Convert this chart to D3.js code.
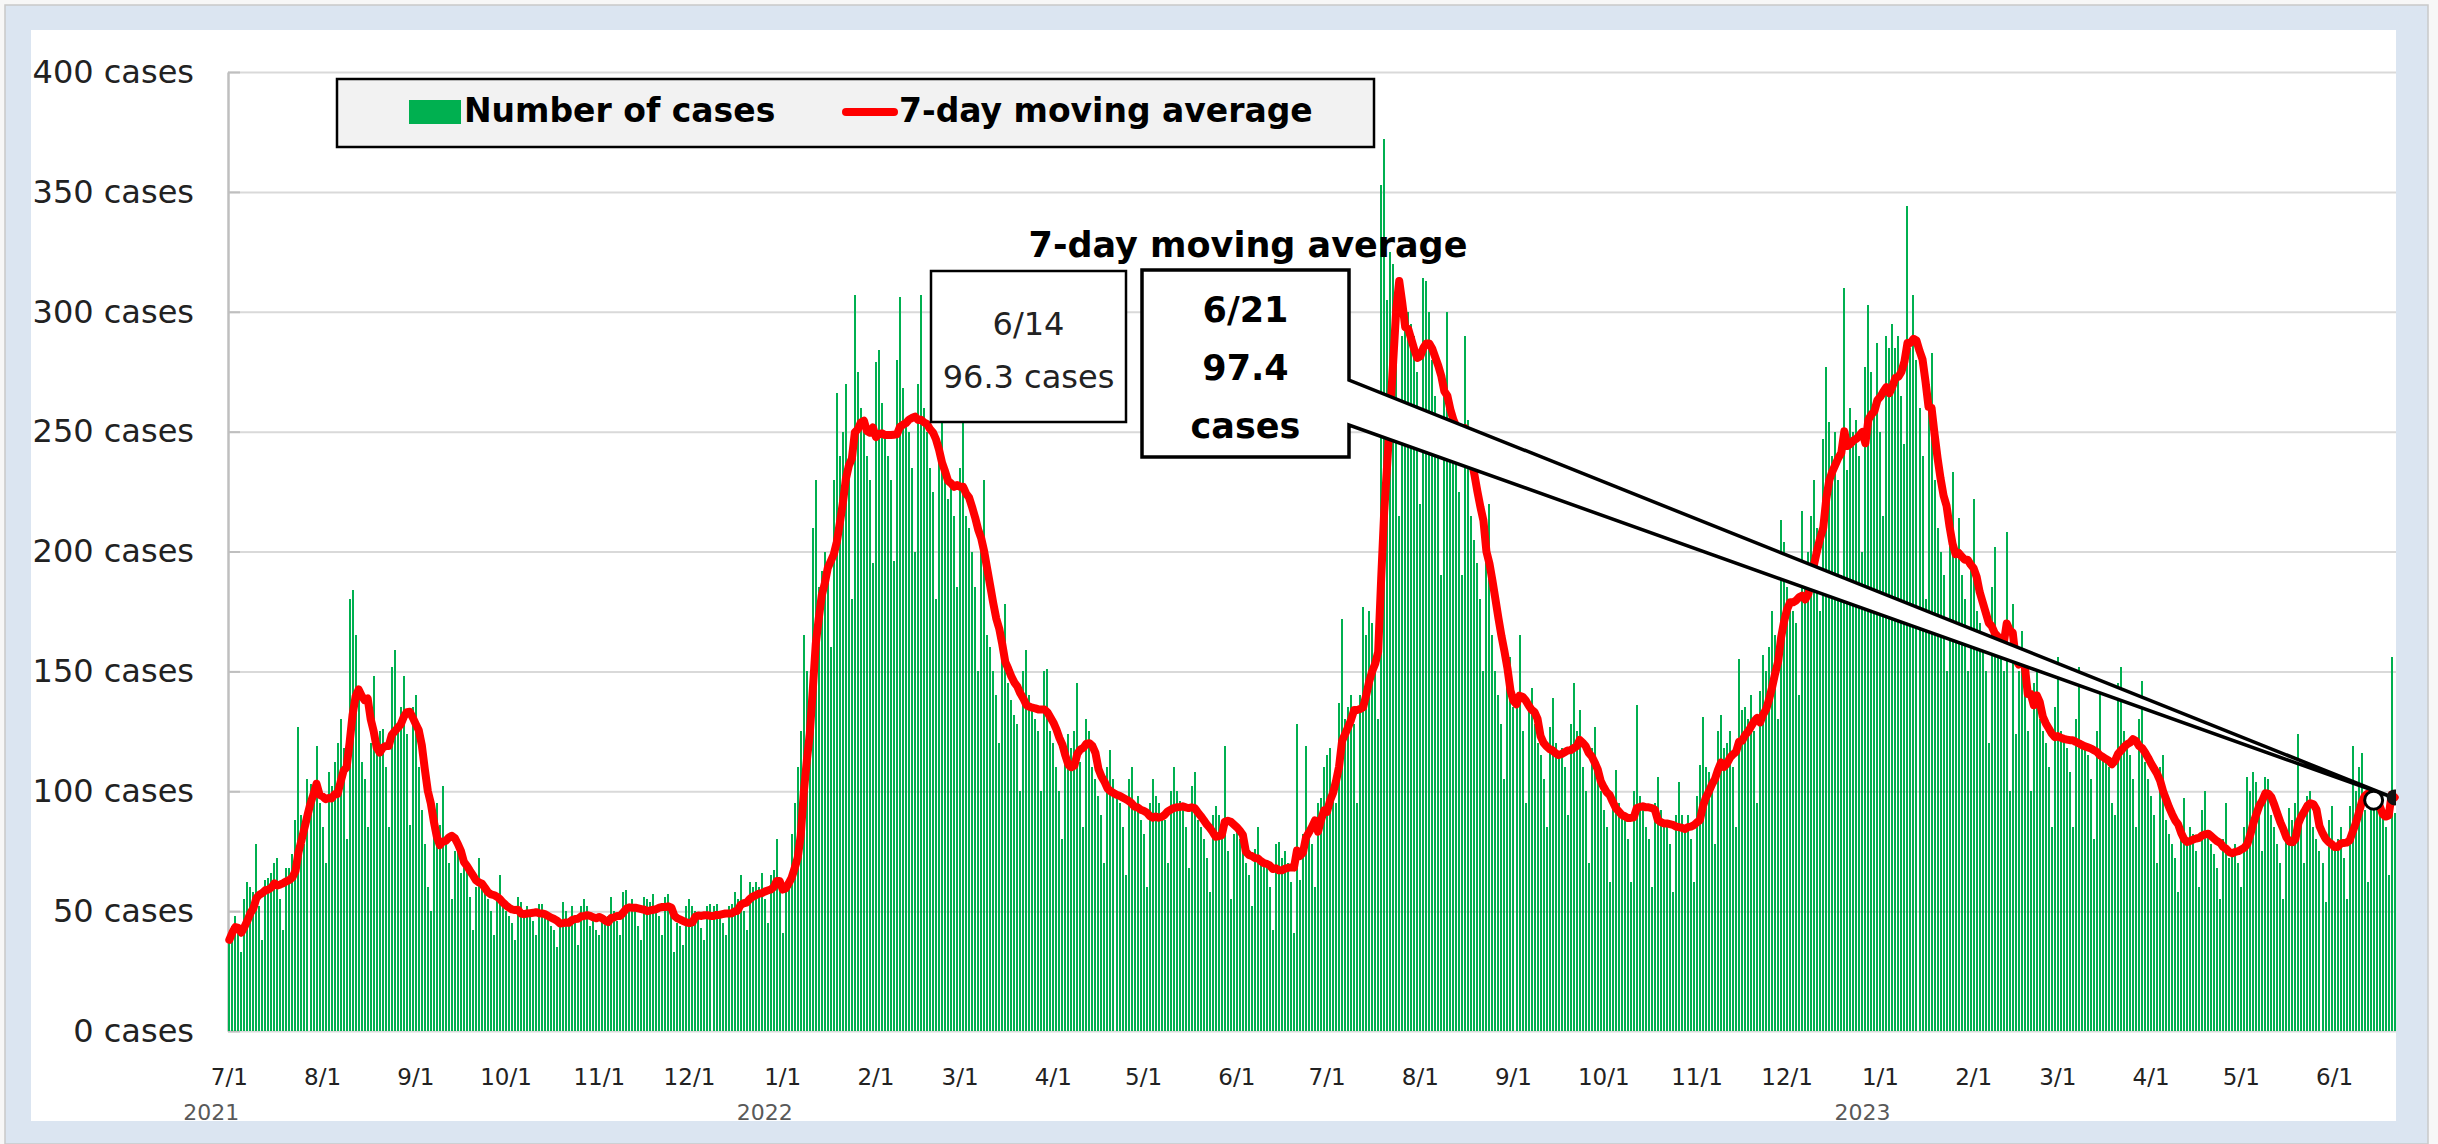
<!DOCTYPE html>
<html>
<head>
<meta charset="utf-8">
<script src="https://cdn.jsdelivr.net/npm/d3@7"></script>
<style>
  html, body { margin: 0; padding: 0; background: #f7f7f7; }
  svg { display: block; font-family: "DejaVu Sans", Verdana, sans-serif; }
</style>
</head>
<body>
<script>
// daily cases from 2021-07-01, one row per week (Thu..Wed)
const firstDay = "2021-07-01";
const cases = [
  38, 44, 48, 42, 33, 55, 62,
  60, 58, 78, 52, 38, 63, 64,
  66, 70, 72, 55, 42, 68, 68,
  74, 88, 127, 90, 78, 105, 103,
  100, 119, 95, 85, 70, 108, 102,
  112, 120, 130, 118, 80, 180, 184,
  165, 140, 112, 105, 85, 120, 148,
  118, 125, 126, 110, 85, 152, 159,
  128, 135, 148, 124, 86, 135, 140,
  110, 92, 78, 60, 50, 82, 95,
  86, 102, 80, 70, 55, 75, 78,
  66, 70, 68, 56, 42, 60, 72,
  62, 58, 55, 50, 40, 55, 65,
  52, 50, 48, 45, 38, 56, 54,
  50, 52, 49, 46, 40, 53, 53,
  48, 47, 44, 42, 35, 45, 54,
  50, 46, 52, 45, 36, 52, 55,
  52, 44, 48, 42, 40, 48, 48,
  48, 56, 50, 46, 40, 58, 59,
  52, 55, 50, 44, 38, 56, 55,
  54, 57, 52, 48, 40, 56, 57,
  50, 33, 45, 44, 36, 52, 55,
  52, 50, 48, 43, 38, 52, 53,
  52, 53, 48, 45, 40, 52, 53,
  58, 55, 65, 50, 42, 62, 60,
  62, 60, 66, 55, 45, 65, 67,
  80, 60, 41, 58, 60, 82, 95,
  110, 125, 165, 150, 140, 210, 230,
  185, 192, 200, 195, 160, 230, 266,
  240, 250, 270, 235, 180, 307, 275,
  260, 255, 240, 230, 195, 279, 284,
  262, 250, 240, 230, 196, 280, 306,
  268, 255, 250, 235, 200, 270, 307,
  260, 250, 235, 225, 180, 240, 269,
  235, 222, 228, 215, 185, 235, 269,
  215, 210, 200, 185, 150, 210, 230,
  165, 160, 150, 140, 120, 165, 178,
  145, 138, 132, 128, 100, 150, 159,
  140, 135, 130, 125, 100, 150, 151,
  125, 120, 110, 100, 80, 118, 124,
  118, 125, 145, 112, 85, 130, 125,
  110, 105, 98, 90, 70, 110, 117,
  105, 100, 95, 85, 65, 105, 110,
  95, 98, 88, 82, 60, 95, 105,
  98, 95, 90, 88, 70, 100, 110,
  100, 96, 92, 85, 68, 102, 108,
  88, 85, 80, 72, 58, 90, 94,
  90, 88, 119, 75, 55, 82, 86,
  80, 76, 70, 65, 52, 76, 85,
  72, 70, 68, 60, 42, 78, 79,
  72, 75, 70, 62, 41, 128, 63,
  82, 119, 85, 78, 60, 95, 97,
  110, 115, 118, 100, 95, 137, 172,
  130, 135, 140, 128, 95, 140, 177,
  165, 175, 170, 150, 130, 353, 372,
  305, 325, 320, 300, 215, 290, 300,
  300, 295, 290, 275, 220, 314, 313,
  300, 280, 265, 250, 190, 270, 300,
  260, 250, 245, 225, 190, 290, 255,
  215, 205, 195, 180, 150, 200, 220,
  165, 150, 140, 128, 105, 150, 156,
  135, 140, 165, 125, 95, 135, 143,
  128, 120, 115, 105, 85, 127, 139,
  120, 115, 118, 110, 90, 128, 145,
  125, 134, 110, 100, 70, 118, 127,
  105, 100, 92, 85, 62, 98, 109,
  95, 90, 88, 80, 62, 100, 136,
  98, 92, 85, 80, 60, 95, 106,
  92, 88, 85, 78, 58, 90, 104,
  90, 85, 90, 80, 62, 98, 111,
  131, 110, 108, 100, 78, 125, 132,
  118, 120, 125, 110, 85, 155, 134,
  135, 130, 140, 125, 95, 142, 157,
  150, 160, 175, 165, 130, 213, 204,
  185, 180, 175, 170, 140, 217, 193,
  200, 215, 230, 210, 175, 247, 277,
  254, 240, 250, 230, 190, 310, 234,
  260, 250, 255, 240, 200, 277, 303,
  275, 260, 287, 250, 215, 290, 285,
  295, 285, 290, 265, 245, 344, 285,
  307, 280, 260, 240, 180, 270, 283,
  230, 210, 200, 190, 150, 209, 233,
  200, 214, 190, 180, 150, 195, 222,
  175, 170, 160, 150, 120, 185, 202,
  165, 160, 150, 208, 100, 178, 124,
  150, 167, 140, 125, 100, 145, 153,
  130, 125, 120, 110, 85, 135, 156,
  125, 122, 118, 108, 85, 130, 152,
  120, 118, 115, 105, 80, 125, 142,
  115, 112, 110, 95, 90, 145, 152,
  125, 120, 115, 105, 85, 130, 146,
  112, 105, 98, 90, 70, 110, 115,
  88, 82, 78, 72, 58, 85, 97,
  80, 85, 82, 75, 60, 92, 100,
  82, 78, 74, 68, 55, 80, 95,
  72, 75, 78, 70, 60, 85, 106,
  100, 108, 104, 95, 75, 106, 105,
  90, 85, 78, 70, 55, 82, 93,
  88, 95, 124, 90, 70, 98, 100,
  85, 80, 75, 70, 54, 88, 94,
  76, 80, 85, 72, 55, 94, 119,
  100, 110, 116, 92, 62, 95, 99,
  98, 95, 92, 85, 65, 156, 91
];
const yTicks = [0, 50, 100, 150, 200, 250, 300, 350, 400];
const monthLabels = ["7/1", "8/1", "9/1", "10/1", "11/1", "12/1", "1/1", "2/1", "3/1", "4/1", "5/1", "6/1",
                     "7/1", "8/1", "9/1", "10/1", "11/1", "12/1", "1/1", "2/1", "3/1", "4/1", "5/1", "6/1"];
const yearLabels = ["2021", "2022", "2023"];
const legendLabels = ["Number of cases", "7-day moving average"];
const noteTitle = "7-day moving average";
const prevNote = { date: "2023-06-14", lines: ["6/14", "96.3 cases"] };
const lastNote = { date: "2023-06-21", lines: ["6/21", "97.4", "cases"] };

const W = 2438, H = 1144;
const plot = { left: 228, right: 2396, top: 72, bottom: 1031 };
const green = "#00b050", red = "#ff0000";

const parse = d3.timeParse("%Y-%m-%d");
const start = parse(firstDay);
const dates = cases.map((v, i) => d3.timeDay.offset(start, i));
const dayOf = d => d3.timeDay.count(start, d);

// trailing 7-day mean
const avg = cases.map((v, i) => d3.mean(cases.slice(Math.max(0, i - 6), i + 1)));

const svg = d3.select("body").append("svg")
    .attr("width", W)
    .attr("height", H);

// frame
svg.append("rect").attr("x", 5).attr("y", 5).attr("width", 2423).attr("height", H - 5)
    .attr("fill", "#dbe5f1").attr("stroke", "#c9c9c9").attr("stroke-width", 1.5);
svg.append("rect").attr("x", 31).attr("y", 30).attr("width", plot.right - 31).attr("height", 1091)
    .attr("fill", "#fff");

const x = d3.scaleBand()
    .domain(d3.range(cases.length))
    .range([plot.left, plot.right])
    .paddingInner(0.33)
    .paddingOuter(0.1);
const bw = x.bandwidth();
const cx = i => x(i) + bw / 2;

const y = d3.scaleLinear().domain([0, 400]).range([plot.bottom, plot.top]);

// gridlines
svg.append("g")
    .attr("transform", `translate(${plot.left},0)`)
    .call(d3.axisLeft(y).tickValues(yTicks).tickSize(-(plot.right - plot.left)).tickFormat(""))
    .call(g => g.select(".domain").remove())
    .call(g => g.selectAll("line").attr("stroke", "#d9d9d9").attr("stroke-width", 2));

// y labels
svg.append("g")
    .attr("transform", `translate(${plot.left},0)`)
    .call(d3.axisLeft(y).tickValues(yTicks).tickSizeInner(-12).tickSizeOuter(0).tickPadding(34)
        .tickFormat(d => d + " cases"))
    .call(g => g.select(".domain").attr("stroke", "#bfbfbf").attr("stroke-width", 2.5))
    .call(g => g.selectAll("line").attr("stroke", "#bfbfbf").attr("stroke-width", 2))
    .call(g => g.selectAll("text")
        .attr("font-size", 32)
        .attr("font-family", "DejaVu Sans, sans-serif")
        .attr("fill", "#222"));

// bars (snapped to whole pixels so the 1px gaps stay even)
svg.append("g")
    .attr("shape-rendering", "crispEdges")
    .selectAll("rect")
    .data(cases)
    .join("rect")
    .attr("x", (d, i) => Math.round(x(i)))
    .attr("y", d => y(d))
    .attr("width", 2)
    .attr("height", d => y(0) - y(d))
    .attr("fill", green);

// month / year labels
const monthStarts = dates.filter(d => d.getDate() === 1);
svg.append("g").selectAll("text")
    .data(monthStarts)
    .join("text")
    .attr("x", d => cx(dayOf(d)))
    .attr("y", 1085)
    .attr("text-anchor", "middle")
    .attr("font-size", 23)
    .attr("fill", "#222")
    .text((d, i) => monthLabels[i]);

const yearStarts = [start].concat(dates.filter(d => d.getDate() === 1 && d.getMonth() === 0));
svg.append("g").selectAll("text")
    .data(yearStarts)
    .join("text")
    .attr("x", d => cx(dayOf(d)) - 18)
    .attr("y", 1120)
    .attr("text-anchor", "middle")
    .attr("font-size", 22)
    .attr("fill", "#595959")
    .text((d, i) => yearLabels[i]);

// moving average line
svg.append("path")
    .datum(avg)
    .attr("fill", "none")
    .attr("stroke", red)
    .attr("stroke-width", 8)
    .attr("stroke-linejoin", "round")
    .attr("stroke-linecap", "round")
    .attr("d", d3.line().x((d, i) => cx(i)).y(d => y(d)));

// legend
const lg = svg.append("g");
lg.append("rect").attr("x", 337).attr("y", 79).attr("width", 1037).attr("height", 68)
    .attr("fill", "#f2f2f2").attr("stroke", "#000").attr("stroke-width", 2.5);
lg.append("rect").attr("x", 409).attr("y", 100).attr("width", 52).attr("height", 24).attr("fill", green);
lg.append("text").attr("x", 464).attr("y", 122).attr("font-size", 33).attr("font-weight", "bold")
    .text(legendLabels[0]);
lg.append("line").attr("x1", 846).attr("x2", 894).attr("y1", 112).attr("y2", 112)
    .attr("stroke", red).attr("stroke-width", 8).attr("stroke-linecap", "round");
lg.append("text").attr("x", 899).attr("y", 122).attr("font-size", 33).attr("font-weight", "bold")
    .text(legendLabels[1]);

// annotation title
svg.append("text").attr("x", 1248).attr("y", 257).attr("text-anchor", "middle")
    .attr("font-size", 35).attr("font-weight", "bold").text(noteTitle);

// 6/14 box
const b1 = { x0: 931, x1: 1126, y0: 271, y1: 422 };
svg.append("rect").attr("x", b1.x0).attr("y", b1.y0).attr("width", b1.x1 - b1.x0).attr("height", b1.y1 - b1.y0)
    .attr("fill", "#fff").attr("stroke", "#000").attr("stroke-width", 2.5);
svg.append("g").selectAll("text")
    .data(prevNote.lines)
    .join("text")
    .attr("x", (b1.x0 + b1.x1) / 2)
    .attr("y", (d, i) => 335 + i * 53)
    .attr("text-anchor", "middle")
    .attr("font-size", 32)
    .attr("fill", "#222")
    .text(d => d);

// 6/21 callout with wedge to the last point
const lastI = dayOf(parse(lastNote.date));
const prevI = dayOf(parse(prevNote.date));
const tip = [cx(lastI) - 2, y(avg[lastI])];
const b2 = { x0: 1142, x1: 1349, y0: 270, y1: 457 };
const callout = d3.path();
callout.moveTo(b2.x0, b2.y0);
callout.lineTo(b2.x1, b2.y0);
callout.lineTo(b2.x1, 380);
callout.lineTo(tip[0], tip[1]);
callout.lineTo(b2.x1, 425);
callout.lineTo(b2.x1, b2.y1);
callout.lineTo(b2.x0, b2.y1);
callout.closePath();
svg.append("path").attr("d", callout.toString())
    .attr("fill", "#fff").attr("stroke", "#000").attr("stroke-width", 3.5).attr("stroke-linejoin", "miter");
svg.append("g").selectAll("text")
    .data(lastNote.lines)
    .join("text")
    .attr("x", (b2.x0 + b2.x1) / 2)
    .attr("y", (d, i) => 322 + i * 58)
    .attr("text-anchor", "middle")
    .attr("font-size", 35)
    .attr("font-weight", "bold")
    .text(d => d);

// markers
svg.append("clipPath").attr("id", "plotclip")
    .append("rect").attr("x", plot.left).attr("y", 0).attr("width", plot.right - plot.left).attr("height", H);
const mk = svg.append("g").attr("clip-path", "url(#plotclip)");
mk.append("circle").attr("cx", cx(prevI)).attr("cy", y(avg[prevI])).attr("r", 9)
    .attr("fill", "#fff").attr("stroke", "#000").attr("stroke-width", 3);
mk.append("circle").attr("cx", cx(lastI)).attr("cy", y(avg[lastI])).attr("r", 8)
    .attr("fill", "#111");
</script>
</body>
</html>
